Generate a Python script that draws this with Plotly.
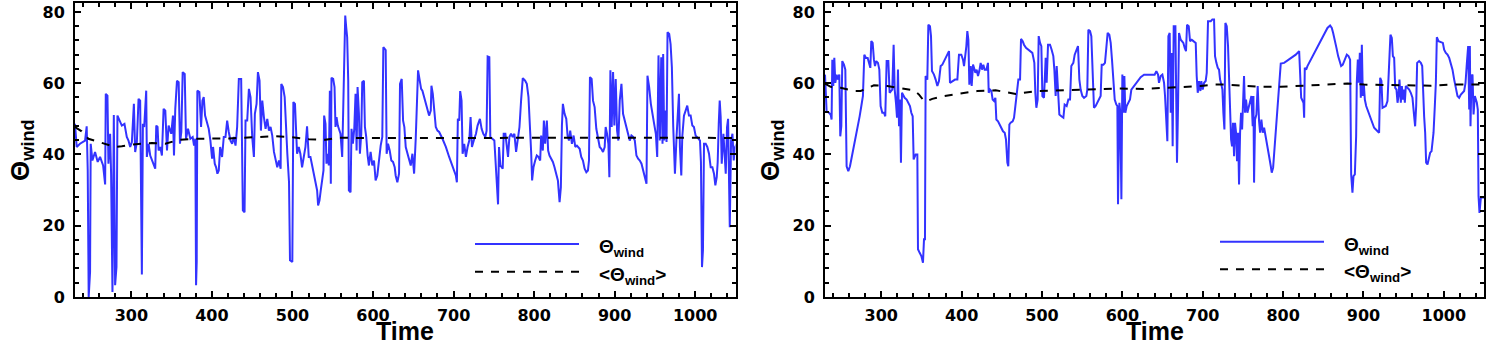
import plotly.graph_objects as go

# ---------------- data ----------------
# Left panel: Theta_wind
t_left = [230, 232.1, 236.2, 242.5, 244.5, 245.8, 247.0, 248.7, 249.5, 251.6, 254.9, 258.2, 261.1, 264.9, 267.4, 268.2, 270.3,
          271.5, 273.6, 274.8, 276.5, 278.2, 279.8, 281.5, 282.7, 285.2, 288.1, 291.4, 294.3, 296.4, 298.5, 300.6, 303.1,
          304.7, 306.8, 308.9, 310.9, 313.0, 314.3, 315.9, 317.2, 318.4, 319.2, 321.3, 323.4, 325.5, 327.5, 329.6, 330.9,
          332.5, 333.8, 335.9, 337.9, 340.0, 342.1, 344.2, 346.2, 349.5, 351.6, 352.9, 354.5, 356.6, 358.7, 360.3, 362.0,
          363.7, 366.2, 367.8, 370.3, 373.2, 376.1, 377.8, 379.4, 380.3, 381.1, 381.9, 384.4, 386.5, 388.2, 389.8, 391.5,
          394.0, 396.0, 398.1, 400.2, 401.4, 403.5, 405.2, 406.8, 408.5, 410.2, 412.6, 414.7, 416.8, 418.9, 420.9, 423.0,
          425.1, 427.2, 429.3, 431.3, 433.4, 436.3, 438.4, 440.5, 441.7, 443.8, 445.9, 447.9, 450.0, 452.1, 453.3, 455.4,
          457.1, 459.1, 460.8, 462.5, 464.5, 466.6, 468.7, 470.8, 472.8, 474.9, 477.0, 479.1, 481.1, 483.2, 485.3, 486.1,
          488.2, 490.3, 491.5, 493.6, 495.7, 496.9, 499.8, 501.1, 503.1,
          503.6, 505.7, 507.8, 509.8, 511.9, 514.0, 516.1, 518.1, 520.2, 522.3, 524.4, 526.4, 528.5, 530.6, 531.8, 533.5,
          535.1, 536.8, 538.5, 539.3, 541.0, 542.2, 543.9, 545.1, 546.4, 547.6, 548.4, 550.5, 552.2, 553.4, 554.7, 556.3,
          557.6, 559.6, 561.7, 563.0, 564.2, 565.5, 566.7, 567.9, 569.2, 570.0, 572.1, 573.3, 575.0, 576.7, 578.3, 579.6,
          580.8, 582.5, 583.7, 585.4, 586.6, 588.7, 589.9, 591.6, 593.3, 594.9, 597.0, 599.1, 601.2, 603.2, 605.3, 607.4,
          609.5, 611.5, 612.8, 615.7, 616.9, 618.6, 620.7, 622.7, 624.8, 626.9, 628.1, 630.2, 632.3, 633.5, 635.6, 637.3,
          638.9, 640.6, 642.7, 644.7, 646.8, 648.9, 651.0, 653.0, 654.3, 655.9, 658.0, 659.7, 661.3, 663.4, 665.5, 667.6,
          669.6, 671.7, 672.5, 674.2, 675.9, 677.9, 680.0, 682.1, 686.2, 690.4, 694.5, 698.7, 702.8, 704.1, 705.3, 707.0,
          708.2, 709.9, 711.2, 713.2, 715.3, 717.4, 719.5, 721.1, 722.8, 725.7, 727.8, 729.8, 732.7, 734.8, 736.9, 739.4,
          741.0, 742.3, 744.4, 745.6, 748.5, 750.6, 751.8, 753.5, 755.2, 756.4, 758.1, 761.0, 762.2, 764.3, 766.0, 767.6,
          769.3, 771.3, 773.4, 775.5,
          777.6, 779.7, 781.8, 783.8, 785.9, 788.8, 790.9, 793.0, 795.0, 796.3, 797.5, 799.2, 801.3, 803.3, 805.4, 807.5,
          808.7, 810.8, 812.1, 813.7, 815.8, 817.4, 819.1, 821.2, 823.3, 825.3, 827.4, 829.5, 831.6, 833.2, 834.5, 835.7,
          837.8, 839.9, 841.5, 843.2, 844.8, 846.9, 849.0, 851.1, 853.1, 856.5, 858.5, 860.6, 862.7, 864.8, 866.8, 868.1,
          869.3, 871.4, 873.1, 875.1, 877.2, 879.3, 881.4, 883.4, 885.5, 887.6, 888.8, 890.5, 892.2, 893.4, 894.7, 896.3,
          898.0, 899.6, 901.3, 903.0, 904.6, 906.3, 908.4, 910.4, 912.5, 914.6, 916.7, 918.7, 920.8, 922.9, 925.0, 927.0,
          929.1, 931.2, 933.3, 935.3, 937.4, 939.5, 940.7, 942.8, 944.9, 946.9, 949.0, 951.1, 952.8, 954.4, 956.1, 957.8,
          959.4, 960.2, 961.5, 963.1, 964.4, 965.6, 967.7, 969.4, 971.0, 972.7, 974.8, 976.8, 978.5, 979.8, 981.0, 982.7,
          983.9, 986.0, 988.1, 990.1, 992.2, 994.3, 996.4, 998.4, 1000.5, 1002.6, 1004.2, 1005.9, 1007.1, 1008.4, 1009.6,
          1010.9, 1013.0, 1015.0, 1017.1, 1019.2, 1021.3, 1023.3, 1025.0, 1026.7, 1027.9, 1029.2, 1030.4, 1031.6, 1032.9,
          1035.0, 1036.6, 1037.9, 1039.5, 1040.8, 1042.0, 1042.9, 1044.5, 1046.2, 1047.8, 1049.5, 1051.6]
theta_left = [48.6, 42.1, 43.0, 43.9, 47.9, 35.5, 0.0, 7.0, 43.0, 38.3, 40.7, 37.9, 39.3, 36.9, 31.6, 57.0, 56.5,
              37.4, 45.8, 34.6, 1.4, 51.1, 3.3, 8.4, 50.9, 49.5, 48.1, 48.6, 44.9, 43.9, 42.1, 43.5, 54.2,
              40.7, 43.5, 55.6, 55.1, 6.3, 48.6, 47.7, 54.2, 57.9, 39.3, 43.0, 39.7, 38.3, 37.4, 36.0, 48.1,
              47.7, 41.1, 42.1, 39.7, 52.8, 52.3, 41.1, 48.1, 45.8, 50.9, 39.7, 52.8, 60.7, 60.3, 43.0, 46.3,
              63.1, 62.6, 44.4, 47.2, 44.4, 44.9, 42.5, 44.4, 3.3, 9.8, 57.9, 57.5, 47.7, 55.1, 56.1, 50.9,
              48.6, 47.2, 43.9, 38.8, 42.1, 37.4, 36.4, 34.6, 35.5, 42.1, 39.3, 44.9, 44.9, 49.5, 46.3, 43.9,
              43.0, 44.9, 42.5, 47.7, 61.2, 61.2, 24.3, 23.8, 49.5, 49.5, 58.4, 56.1, 44.9, 39.3, 51.4, 54.2,
              63.1, 60.7, 46.7, 55.1, 50.5, 47.2, 50.0, 46.7, 47.7, 45.3, 40.7, 38.8, 36.4, 38.3, 36.0, 59.8,
              58.9, 56.1, 48.6, 40.2, 32.2, 10.3, 9.8, 54.7, 54.2,
              50.9, 40.2, 42.1, 40.2, 36.4, 39.3, 42.1, 47.9, 39.3, 39.3, 36.9, 35.5, 32.7, 29.9, 25.7, 27.1,
              29.9, 32.7, 35.5, 50.9, 48.6, 37.4, 40.2, 36.9, 57.9, 31.8, 61.5, 61.2, 58.9, 47.7, 50.5, 48.1,
              47.2, 45.8, 39.3, 53.7, 67.3, 79.0, 75.7, 72.9, 60.7, 29.9, 29.4, 47.2, 43.0, 47.2, 57.0, 41.1,
              58.9, 51.4, 40.2, 45.8, 60.3, 60.7, 47.7, 44.9, 39.7, 36.9, 40.7, 36.9, 38.3, 32.7, 34.1, 39.3,
              42.5, 44.9, 70.1, 69.3, 40.2, 43.0, 41.1, 38.3, 37.9, 36.4, 34.1, 32.2, 34.6, 59.8, 61.2, 49.5,
              47.7, 42.1, 40.2, 38.3, 36.9, 40.2, 34.6, 44.4, 56.5, 63.6, 60.7, 58.4, 57.9, 56.1, 55.1, 53.3,
              50.9, 52.3, 59.3, 57.0, 52.3, 47.7, 46.7, 46.3, 44.4, 42.1, 39.3, 36.9, 34.1, 32.2, 50.0, 49.5,
              57.8, 55.1, 40.2, 43.0, 39.3, 42.1, 43.9, 50.5, 42.1, 44.4, 45.8, 48.1, 50.0, 47.2, 45.8, 44.9,
              46.7, 67.5, 67.3, 44.9, 44.4, 43.9, 39.3, 32.7, 26.0, 42.1, 36.9, 36.0, 45.8, 45.8, 42.1, 39.3,
              44.9, 45.8, 44.9, 45.8,
              40.7, 43.9, 47.7, 55.1, 61.4, 60.7, 59.8, 56.1, 48.6, 40.7, 32.7, 36.4, 38.3, 39.7, 39.3, 38.3,
              45.3, 41.1, 49.5, 43.0, 49.5, 41.1, 39.7, 38.8, 37.9, 36.4, 34.6, 32.7, 26.6, 30.8, 48.1, 54.2,
              51.4, 50.0, 45.3, 43.9, 46.7, 43.0, 45.3, 42.1, 42.5, 41.6, 39.3, 38.3, 36.0, 35.0, 35.5, 38.3,
              61.7, 61.2, 55.1, 53.3, 47.2, 44.9, 42.1, 41.6, 40.7, 42.1, 47.7, 45.8, 43.0, 33.6, 63.6, 47.7,
              63.1, 48.1, 61.2, 46.7, 43.9, 55.1, 59.8, 51.4, 49.5, 47.7, 45.8, 43.9, 45.3, 44.9, 43.9, 39.7,
              38.8, 38.3, 37.4, 35.5, 34.1, 31.8, 62.1, 58.9, 54.2, 50.9, 48.6, 45.8, 39.3, 67.8, 43.9, 67.3,
              43.0, 68.2, 43.9, 52.3, 43.5, 74.3, 73.8, 71.0, 64.5, 47.7, 34.6, 44.9, 50.5, 57.0, 42.1, 34.1,
              44.9, 50.9, 52.3, 53.7, 50.9, 50.9, 48.1, 47.7, 45.3, 44.9, 44.4, 43.9, 37.9, 8.4, 13.1,
              43.0, 43.0, 42.1, 40.2, 36.4, 36.4, 34.6, 31.3, 33.6, 37.9, 48.6, 55.1, 50.5, 37.4,
              45.8, 40.2, 34.6, 47.7, 50.0, 32.2, 19.6, 43.9, 45.8, 38.3, 42.1, 43.0]

# Left panel: <Theta_wind>
t_left_mean = [230, 238.3, 246.6, 263.2, 269.4, 279.8, 288.1, 300.6, 325.5, 342.1, 358.7, 379.4, 420.9, 458.3, 479.1,
               495.7, 520.2, 541.0, 557.6, 600, 700, 800, 900, 1000, 1050]
mean_left = [47.7, 46.5, 44.4, 43.2, 42.8, 42.1, 42.3, 42.8, 43.2, 43.0, 44.1, 44.4, 44.5, 45.0, 45.1,
             44.9, 44.3, 44.1, 44.7, 44.6, 44.7, 44.6, 44.7, 44.7, 44.6]

# Right panel: Theta_wind
t_right = [230, 230.8, 232.0, 234.9, 237.0, 238.2, 239.1, 240.3, 241.6, 242.8, 244.5, 246.1, 247.8, 249.0, 250.3, 251.5,
           253.6, 255.3, 256.9, 259.0, 261.1, 262.7, 264.4, 266.9, 268.9, 271.0, 273.1, 275.2, 277.2, 278.9, 281.0, 283.1,
           284.7, 286.4, 287.6, 289.3, 290.9, 292.2, 293.8, 295.9, 297.6, 299.2, 301.3, 303.4, 305.0, 306.7, 308.8, 310.4,
           312.1, 313.7, 315.4, 316.7, 318.3, 319.6, 320.8, 322.1, 323.3, 324.5, 325.8, 327.4, 329.1, 331.6, 333.7, 335.7,
           337.4, 339.1, 340.3, 342.8, 344.9, 345.7, 347.8, 349.9, 351.9, 353.2, 354.4, 355.2, 357.3, 358.6, 360.6, 361.9,
           363.1, 365.6, 367.7, 369.8, 371.8, 373.9, 376.0, 378.1, 380.1, 382.2, 384.3, 385.5, 388.4, 391.8, 394.7, 396.7,
           399.6, 401.7, 403.0, 404.2, 405.9, 407.1, 408.4, 409.6, 411.3, 412.5, 414.2, 415.4, 417.1, 418.7, 420.4, 422.0,
           423.7, 425.4, 427.0, 428.7, 430.8, 432.8, 433.7, 435.3, 437.0, 438.6, 440.3, 442.0, 443.2, 445.3, 447.4, 449.4,
           451.5, 453.6, 455.2, 456.9, 458.1, 459.4, 461.0, 463.5, 465.2, 466.9, 468.5, 470.6, 472.7, 473.9, 476.0, 477.6,
           480.1, 482.6, 485.1, 488.0, 489.3, 490.5, 491.7, 493.0, 494.6, 495.9, 497.6, 499.2, 500.5,
           502.5, 504.6, 505.8, 507.5, 510.0, 512.0, 514.1, 515.4, 517.0, 518.3, 519.9, 521.6, 524.1, 526.6, 528.2, 530.7,
           532.8, 534.9, 536.5, 539.0, 540.7, 542.7, 544.8, 546.5, 548.1, 550.2, 552.3, 555.2, 556.4, 557.7, 559.8, 561.4,
           563.1, 564.7, 566.8, 568.9, 571.0, 573.0, 574.3, 576.4, 578.4, 580.1, 581.7, 583.8, 585.5, 587.1, 588.8, 590.5,
           592.5, 593.8, 594.6, 596.3, 597.5, 598.8, 600.0, 601.2, 602.5, 603.7, 605.4, 607.5, 609.5, 611.2, 614.5, 618.7,
           622.8, 627.0, 640.2, 642.3, 644.4, 645.6, 647.7, 649.8, 651.9, 653.1, 654.4, 656.0, 657.3, 658.9, 660.2, 661.4,
           662.6, 663.9, 666.0, 667.2, 668.0, 669.3, 670.5, 672.6, 674.3, 675.9, 677.6, 679.2, 680.5, 682.6, 684.2, 686.3,
           688.4, 691.3, 692.5, 693.8, 695.4, 697.1, 698.3, 700.0, 701.7, 703.7, 705.0, 706.6, 710.0, 712.0, 714.1, 715.3,
           717.0, 718.7, 720.3, 721.6, 723.2, 724.5, 725.7, 727.0, 728.2, 729.9, 731.5, 732.8, 734.0, 735.3, 736.5, 737.7,
           739.0, 740.2, 741.5, 742.7, 744.0, 745.2, 746.5, 747.7, 749.0, 750.2, 751.4, 752.7, 753.9, 755.6, 757.3, 758.9,
           760.6, 762.2, 763.1, 763.9, 765.1, 766.8, 768.4, 770.1, 771.4, 773.0, 774.7,
           776.4, 778.5, 780.5, 782.6, 784.7, 785.9, 787.6, 789.3, 790.9, 792.2, 793.4, 794.7, 795.9, 797.1, 801.3, 809.6,
           815.8, 820.0, 821.2, 822.5, 825.4, 826.2, 827.0, 828.7, 830.3, 834.5, 838.6, 842.8, 846.9, 851.1, 855.2, 858.5,
           860.6, 862.3, 864.4, 866.4, 868.5, 870.6, 872.2, 874.3, 876.8, 879.3, 881.4, 883.4, 884.7, 886.3, 887.6, 889.3,
           890.9, 891.7, 893.0, 894.2, 895.5, 896.7, 898.0, 899.2, 900.5, 901.7, 903.4, 905.0, 907.1, 909.2, 911.2, 913.3,
           917.5, 919.5, 920.8, 922.4, 923.7, 927.8, 929.9, 931.2, 932.4, 933.6, 935.3, 936.6, 938.2, 939.5, 941.1, 942.4,
           943.6, 944.8, 946.5, 947.8, 949.0, 950.2, 951.5, 952.7, 956.9, 958.9, 961.0, 963.1, 964.3, 965.6, 966.8, 969.3,
           971.4, 973.1, 974.3, 975.5, 976.8, 978.0, 979.7, 981.4, 983.0, 984.7, 985.9, 987.2, 988.8, 990.1, 991.3, 993.4,
           998.8, 1000.4, 1002.5, 1004.6, 1006.7, 1008.7, 1010.8, 1012.9, 1015.0, 1017.0, 1019.1, 1021.2, 1025.3, 1027.0,
           1028.7, 1030.3, 1031.6, 1032.4, 1033.2, 1034.5, 1035.7, 1037.0, 1038.6, 1039.9, 1041.1, 1042.3, 1043.2, 1044.4,
           1046.1, 1050.2]
theta_right = [62.4, 56.4, 52.1, 51.7, 51.2, 49.8, 66.6, 59.2, 67.1, 60.1, 62.4, 61.0, 62.4, 45.1, 47.9, 66.2,
               65.2, 63.8, 36.7, 35.3, 36.7, 38.6, 40.5, 43.3, 46.1, 48.4, 50.7, 53.6, 56.4, 68.0, 67.1, 67.1,
               65.7, 64.3, 71.8, 71.3, 66.6, 64.8, 66.2, 65.7, 63.8, 53.6, 51.7, 51.7, 50.7, 66.2, 66.2, 57.3,
               57.8, 58.2, 70.8, 58.2, 54.5, 50.3, 63.8, 47.9, 55.4, 37.7, 57.3, 56.4, 55.9, 55.4, 54.5, 53.6,
               51.7, 50.7, 38.6, 40.0, 40.0, 13.4, 12.4, 11.5, 9.6, 16.2, 16.2, 62.0, 61.0, 76.4, 76.0, 73.2,
               63.4, 62.4, 61.0, 59.2, 60.6, 64.8, 65.2, 66.2, 67.4, 68.2, 69.0, 60.1, 60.6, 61.0, 61.0, 68.0,
               68.0, 66.6, 64.8, 67.1, 70.4, 74.6, 72.2, 59.6, 64.8, 59.2, 65.2, 64.3, 62.9, 63.8, 62.0, 63.4,
               65.7, 63.8, 65.2, 63.8, 63.8, 65.7, 57.3, 58.2, 57.8, 55.4, 55.0, 55.9, 49.8, 49.3, 48.4, 47.5,
               46.5, 46.1, 44.2, 37.7, 36.7, 48.4, 48.9, 49.3, 50.3, 53.6, 57.3, 61.0, 61.0, 72.4, 71.8, 70.8,
               69.9, 69.4, 69.0, 68.5, 67.1, 65.7, 57.3, 53.1, 55.4, 73.2, 71.3, 70.4, 56.4,
               55.9, 67.1, 60.1, 70.8, 70.8, 69.4, 67.6, 63.8, 56.4, 64.8, 56.4, 51.2, 50.7, 50.3, 54.0, 53.6,
               55.4, 55.4, 64.8, 65.7, 68.0, 69.4, 70.4, 61.0, 58.2, 56.4, 55.9, 56.4, 58.2, 75.0, 74.6, 73.2,
               61.0, 53.1, 53.6, 54.5, 55.4, 56.4, 65.2, 65.2, 65.7, 71.3, 74.1, 73.6, 71.3, 66.6, 62.0, 55.4,
               54.0, 53.6, 26.0, 54.5, 51.7, 27.4, 62.4, 51.7, 62.0, 51.7, 53.6, 54.5, 55.4, 58.2, 59.2, 60.6,
               61.7, 62.4, 62.4, 63.4, 62.4, 60.1, 62.0, 62.4, 60.1, 56.4, 51.7, 43.7, 73.2, 74.1, 51.7, 68.5,
               42.3, 76.0, 76.0, 47.9, 37.7, 53.6, 74.1, 72.2, 71.8, 71.3, 69.9, 69.0, 76.4, 76.0, 71.8, 72.2,
               71.8, 71.3, 62.0, 57.3, 60.6, 57.8, 60.6, 58.2, 60.1, 60.6, 62.9, 77.4, 77.4, 77.9, 77.9, 67.6,
               65.7, 64.3, 63.8, 61.0, 59.6, 58.2, 51.7, 47.0, 76.9, 76.0, 70.4, 59.2, 52.6, 44.2, 42.3, 48.9,
               39.5, 48.9, 46.1, 38.1, 46.1, 31.6, 46.1, 51.7, 47.0, 55.4, 62.0, 51.7, 55.4, 51.7, 53.6, 55.4,
               56.4, 47.9, 56.4, 32.1, 49.8, 51.2, 59.2, 49.3, 46.1, 49.8, 46.1,
               47.5, 45.1, 42.3, 39.5, 36.7, 34.9, 36.3, 41.4, 45.1, 48.9, 52.6, 58.2, 60.1, 65.5, 65.7, 67.1,
               68.0, 69.0, 62.0, 55.9, 54.5, 50.3, 64.3, 63.8, 64.8, 66.6, 68.5, 70.4, 72.2, 74.1, 75.5, 76.2,
               75.5, 74.1, 72.2, 69.9, 67.6, 65.7, 64.8, 65.2, 66.6, 68.0, 67.6, 66.6, 34.4, 29.3, 33.9, 34.4,
               45.1, 60.1, 66.6, 60.1, 68.5, 55.9, 70.8, 56.4, 59.6, 55.4, 53.6, 52.6, 51.2, 49.8, 48.4, 47.5,
               46.5, 46.1, 61.5, 60.6, 53.1, 53.6, 55.0, 60.1, 67.6, 73.6, 72.7, 67.6, 67.1, 58.7, 58.2, 54.5,
               56.4, 61.0, 54.5, 59.2, 55.4, 58.2, 54.5, 59.2, 58.2, 57.3, 55.9, 50.7, 47.9, 53.6, 65.7, 66.2,
               65.7, 64.8, 56.4, 50.7, 46.1, 37.7, 37.2, 39.5, 40.5, 40.9, 43.3, 46.1, 53.6, 60.1, 72.9, 71.8,
               71.3, 69.4, 68.5, 68.0, 67.1, 65.7, 63.8, 61.0, 58.2, 56.4, 55.9, 56.8, 57.8, 60.1,
               65.7, 70.4, 52.6, 70.4, 47.9, 62.0, 62.4, 51.2, 56.4, 55.4, 54.5, 52.6, 28.3, 23.6,
               27.9, 27.9]

# Right panel: <Theta_wind>
t_right_mean = [230, 237, 249.4, 266, 274.3, 286.8, 290.9, 307.5, 324.1, 340.7, 347, 353.2, 357.3, 363.5, 378.1,
                384.3, 398.8, 419.6, 442.4, 456.9, 467.3, 477.6, 494.2, 527.4, 564.7, 593.8, 627, 656, 676.8,
                697.5, 714.1, 730.7, 751.4, 772.2, 797.1, 817.9, 855.2, 880.1, 900.9, 942.4, 983.9, 1008.7, 1050]
mean_right = [59.9, 59.0, 58.7, 57.8, 57.8, 59.0, 59.4, 59.2, 58.7, 58.0, 56.8, 55.0, 55.0, 55.6, 56.4,
              56.6, 57.0, 57.8, 58.0, 57.3, 57.0, 57.3, 57.8, 58.0, 58.3, 58.5, 58.4, 58.7, 58.9,
              59.2, 59.6, 59.6, 59.3, 59.0, 59.0, 59.2, 59.6, 59.9, 59.6, 59.4, 59.3, 59.6, 59.6]

x_range = [230, 1050]
y_range = [0, 82.5]
x_tickvals = [300, 400, 500, 600, 700, 800, 900, 1000]
y_tickvals = [0, 20, 40, 60, 80]
y_title = "Θ<sub>wind</sub>"
x_title = "Time"
legend_labels = ["Θ<sub>wind</sub>", "&lt;Θ<sub>wind</sub>&gt;"]

# ---------------- figure ----------------
W, H = 1500, 348
BLUE = "#3333ff"
FONT = "Liberation Sans, Arial, sans-serif"
TICKFONT = "DejaVu Sans, sans-serif"

fig = go.Figure()
fig.add_trace(go.Scatter(x=t_left, y=theta_left, mode="lines", line=dict(color=BLUE, width=2),
                         xaxis="x", yaxis="y", showlegend=False))
fig.add_trace(go.Scatter(x=t_left_mean, y=mean_left, mode="lines", line=dict(color="black", width=2, dash="8px,8px"),
                         xaxis="x", yaxis="y", showlegend=False))
fig.add_trace(go.Scatter(x=t_right, y=theta_right, mode="lines", line=dict(color=BLUE, width=2),
                         xaxis="x2", yaxis="y2", showlegend=False))
fig.add_trace(go.Scatter(x=t_right_mean, y=mean_right, mode="lines", line=dict(color="black", width=2, dash="8px,8px"),
                         xaxis="x2", yaxis="y2", showlegend=False))

tickfont = dict(family=TICKFONT, size=16, color="black", weight="bold")


def xax(domain, anchor):
    return dict(domain=domain, anchor=anchor, range=x_range, tickvals=x_tickvals, ticks="inside", ticklen=6,
                tickwidth=1.5, tickcolor="black", showline=True, linewidth=2, linecolor="black", mirror="ticks",
                showgrid=False, zeroline=False, tickfont=tickfont, automargin=False, ticklabelstandoff=3,
                minor=dict(ticks="inside", ticklen=4, tickwidth=1.5, tickcolor="black", dtick=20, tick0=0,
                           showgrid=False))


def yax(anchor):
    return dict(domain=[1 - 297 / H, 1 - 3 / H], anchor=anchor, range=y_range, tickvals=y_tickvals, ticks="inside",
                ticklen=6, tickwidth=1.5, tickcolor="black", showline=True, linewidth=2, linecolor="black",
                mirror="ticks", showgrid=False, zeroline=False, tickfont=tickfont, automargin=False,
                ticklabelstandoff=5,
                minor=dict(ticks="inside", ticklen=4, tickwidth=1.5, tickcolor="black", dtick=4, tick0=0,
                           showgrid=False))


L0, L1 = 75 / W, 735.5 / W
R0, R1 = 825 / W, 1484 / W

fig.update_layout(
    width=W, height=H, margin=dict(l=0, r=0, t=0, b=0),
    paper_bgcolor="white", plot_bgcolor="white",
    xaxis=xax([L0, L1], "y"), yaxis=yax("x"),
    xaxis2=xax([R0, R1], "y2"), yaxis2=yax("x2"),
    showlegend=False,
)

annots = []
shapes = []
for (a0, a1) in [(L0, L1), (R0, R1)]:
    annots.append(dict(text=x_title, x=(a0 + a1) / 2, y=1 - 331 / H, xref="paper", yref="paper",
                       xanchor="center", yanchor="middle", showarrow=False,
                       font=dict(family=FONT, size=25, color="black", weight="bold")))
    annots.append(dict(text=y_title, x=a0 - 54 / W, y=1 - 150 / H, xref="paper", yref="paper",
                       xanchor="center", yanchor="middle", showarrow=False, textangle=-90,
                       font=dict(family=FONT, size=26, color="black", weight="bold")))

# manual legends
legend_geo = [
    # (line x0, line x1, y solid, y dashed, text x, text y1, text y2)
    (475, 579, 244, 271.7, 597, 248, 276),
    (1220, 1324, 241.7, 269.3, 1342, 246, 273),
]
for (lx0, lx1, ys, yd, tx, ty1, ty2) in legend_geo:
    shapes.append(dict(type="line", xref="paper", yref="paper", x0=lx0 / W, x1=lx1 / W, y0=1 - ys / H, y1=1 - ys / H,
                       line=dict(color=BLUE, width=2)))
    shapes.append(dict(type="line", xref="paper", yref="paper", x0=lx0 / W, x1=lx1 / W, y0=1 - yd / H, y1=1 - yd / H,
                       line=dict(color="black", width=2, dash="8px,8px")))
    for lab, ty in zip(legend_labels, [ty1, ty2]):
        annots.append(dict(text=lab, x=tx / W, y=1 - ty / H, xref="paper", yref="paper",
                           xanchor="left", yanchor="middle", showarrow=False,
                           font=dict(family=FONT, size=19, color="black", weight="bold")))

fig.update_layout(annotations=annots, shapes=shapes)
fig.write_html("out.html")
